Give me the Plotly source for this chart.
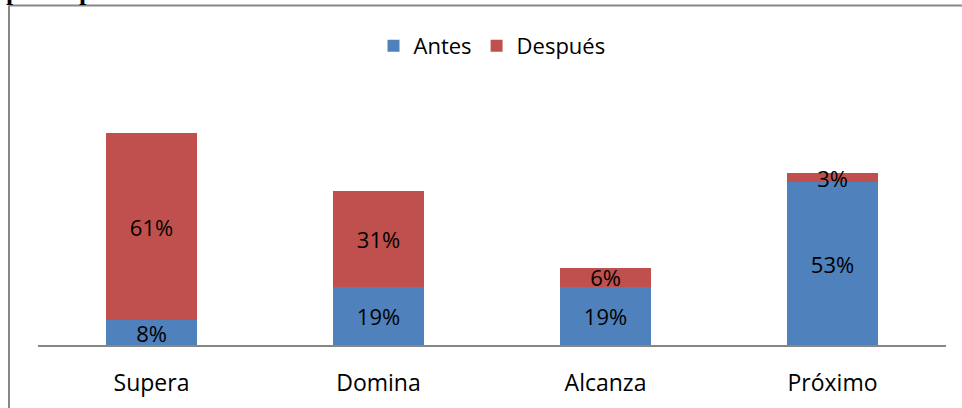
import plotly.graph_objects as go

categories = ["Supera", "Domina", "Alcanza", "Próximo"]
antes = [8, 19, 19, 53]
despues = [61, 31, 6, 3]
series_names = ["Antes", "Después"]
colors = ["#4F81BD", "#C0504D"]

W, H = 962, 408
ML, MR, MT, MB = 38, 16, 130, 63
pw = W - ML - MR
ph = H - MT - MB

def px_x(x):
    return (x - ML) / pw

def px_y(y):
    return (H - MB - y) / ph

font = "Open Sans, Noto Sans, sans-serif"

fig = go.Figure()
for name, vals, col in zip(series_names, [antes, despues], colors):
    fig.add_trace(go.Bar(
        x=categories, y=vals, name=name,
        marker=dict(color=col, line=dict(width=0)),
        text=[f"{v}%" for v in vals],
        textposition="inside", insidetextanchor="middle",
        constraintext="none",
        textfont=dict(color="black", size=22, family=font),
        cliponaxis=False,
    ))

fig.update_layout(
    width=W, height=H, barmode="stack", bargap=0.6,
    margin=dict(l=ML, r=MR, t=MT, b=MB, autoexpand=False),
    paper_bgcolor="white", plot_bgcolor="white",
    font=dict(family=font, color="black", size=22),
    uniformtext=dict(mode=False),
    legend=dict(orientation="h", x=0.5, xanchor="center", y=px_y(46), yanchor="middle",
                font=dict(size=22, family=font), itemwidth=30, traceorder="normal"),
    xaxis=dict(showline=True, linecolor="#868686", linewidth=2, showgrid=False, automargin=False,
               ticks="", ticklabelstandoff=16, tickfont=dict(size=23, family=font)),
    yaxis=dict(range=[0, 70], visible=False, showgrid=False, automargin=False),
    shapes=[
        dict(type="line", xref="paper", yref="paper", x0=px_x(9), x1=px_x(962), y0=px_y(5.5), y1=px_y(5.5),
             line=dict(color="#888888", width=2)),
        dict(type="line", xref="paper", yref="paper", x0=px_x(9), x1=px_x(9), y0=px_y(5.5), y1=px_y(410),
             line=dict(color="#888888", width=2)),
    ],
    annotations=[
        dict(text="<b>p</b>", xref="paper", yref="paper", x=px_x(13), y=px_y(-9), xanchor="center",
             yanchor="middle", showarrow=False, font=dict(family="Liberation Serif", size=26, color="black")),
        dict(text="<b>p</b>", xref="paper", yref="paper", x=px_x(86), y=px_y(-9), xanchor="center",
             yanchor="middle", showarrow=False, font=dict(family="Liberation Serif", size=26, color="black")),
    ],
)

fig.write_html("out.html", config={"displayModeBar": False},
               post_script="document.body.style.margin='0';document.body.style.overflow='hidden';")
